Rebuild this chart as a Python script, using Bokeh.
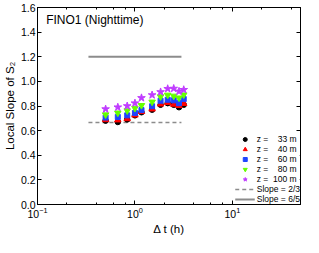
import numpy as np
from bokeh.plotting import figure
from bokeh.models import (Legend, LegendItem, Label, LogAxis, LinearAxis,
                          FixedTicker, LogTicker, Range1d, PrintfTickFormatter)
from bokeh.embed import file_html
from bokeh.resources import INLINE

# ---- data ----
dt_hours = [0.5, 0.667, 0.833, 1.0, 1.167, 1.5, 1.833, 2.167, 2.5, 2.833, 3.167]
slope_33m = [0.681, 0.670, 0.691, 0.724, 0.749, 0.770, 0.810, 0.823, 0.810, 0.790, 0.810]
slope_40m = [0.688, 0.686, 0.696, 0.726, 0.754, 0.775, 0.815, 0.828, 0.813, 0.803, 0.820]
slope_60m = [0.706, 0.711, 0.724, 0.744, 0.767, 0.798, 0.843, 0.851, 0.846, 0.823, 0.856]
slope_80m = [0.729, 0.744, 0.762, 0.782, 0.805, 0.833, 0.876, 0.889, 0.881, 0.866, 0.891]
slope_100m = [0.775, 0.790, 0.800, 0.823, 0.866, 0.889, 0.914, 0.940, 0.942, 0.919, 0.932]

ref_dt = [1 / 3, 3.0]
ref_slope_2_3 = [2 / 3, 2 / 3]
ref_slope_6_5 = [6 / 5, 6 / 5]

series_labels = ["z =    33 m", "z =    40 m", "z =    60 m", "z =    80 m", "z =  100 m"]
ref_labels = ["Slope = 2/3", "Slope = 6/5"]
y_ticks = [0.0, 0.2, 0.4, 0.6, 0.8, 1.0, 1.2, 1.4, 1.6]
title_text = "FINO1 (Nighttime)"
x_label = "\u0394 t (h)"
y_label = "Local Slope of S\u2082"

FONT = "Liberation Sans"

p = figure(width=303, height=237, x_axis_type="log",
           x_range=Range1d(0.1, 50), y_range=Range1d(0, 1.6),
           output_backend="svg", toolbar_location=None,
           min_border_left=34, min_border_right=3, min_border_top=7,
           min_border_bottom=26)
p.grid.visible = False
p.outline_line_color = "black"
p.outline_line_width = 1
p.background_fill_color = "white"
p.border_fill_color = "white"

# reference lines
l23 = p.line(ref_dt, ref_slope_2_3, line_color="#8c8c8c", line_width=1.5, line_dash="4 3")
l65 = p.line(ref_dt, ref_slope_6_5, line_color="#8c8c8c", line_width=2)

# data
r1 = p.scatter(dt_hours, slope_33m, marker="circle", size=5.5, color="black")
r2 = p.scatter(dt_hours, slope_40m, marker="triangle", size=6.5, color="#ff0000")
r3 = p.scatter(dt_hours, slope_60m, marker="square", size=5, color="#1f45ff")
r4 = p.scatter(dt_hours, slope_80m, marker="inverted_triangle", size=6.5, color="#66ff00")
r5 = p.scatter(dt_hours, slope_100m, marker="star", size=8, color="#c03cff")

# axes styling
xax = p.xaxis[0]
yax = p.yaxis[0]
xax.ticker = LogTicker(desired_num_ticks=3)
yax.ticker = FixedTicker(ticks=y_ticks)
yax.formatter = PrintfTickFormatter(format="%.1f")
for ax in (xax, yax):
    ax.axis_line_color = "black"
    ax.major_tick_line_color = "black"
    ax.minor_tick_line_color = "black"
    ax.major_tick_in = 4
    ax.major_tick_out = 0
    ax.minor_tick_in = 2
    ax.minor_tick_out = 0
    ax.major_label_text_font = FONT
    ax.major_label_text_font_size = "10.5px"
    ax.major_label_text_color = "black"
    ax.axis_label_text_font = FONT
    ax.axis_label_text_font_size = "11.5px"
    ax.axis_label_text_font_style = "normal"
    ax.axis_label_text_color = "black"
    ax.major_label_standoff = 2
    ax.axis_label_standoff = 2
xax.axis_label = x_label
yax.axis_label = y_label

top = LogAxis(ticker=LogTicker(desired_num_ticks=3))
right = LinearAxis(ticker=FixedTicker(ticks=y_ticks))
for ax in (top, right):
    ax.axis_line_color = "black"
    ax.major_tick_line_color = "black"
    ax.minor_tick_line_color = "black"
    ax.major_tick_in = 4
    ax.major_tick_out = 0
    ax.minor_tick_in = 2
    ax.minor_tick_out = 0
    ax.major_label_text_font_size = "1px"
    ax.major_label_text_alpha = 0
    ax.major_label_standoff = 0
p.add_layout(top, "above")
p.add_layout(right, "right")

# title text inside plot
p.add_layout(Label(x=0.1227, y=1.5, text=title_text, text_baseline="middle",
                   text_font=FONT, text_font_size="12px", text_color="black"))

legend = Legend(items=[
    LegendItem(label=series_labels[0], renderers=[r1]),
    LegendItem(label=series_labels[1], renderers=[r2]),
    LegendItem(label=series_labels[2], renderers=[r3]),
    LegendItem(label=series_labels[3], renderers=[r4]),
    LegendItem(label=series_labels[4], renderers=[r5]),
    LegendItem(label=ref_labels[0], renderers=[l23]),
    LegendItem(label=ref_labels[1], renderers=[l65]),
], location="bottom_right")
legend.border_line_color = None
legend.background_fill_color = "white"
legend.background_fill_alpha = 1.0
legend.margin = 0
legend.padding = 3
legend.spacing = 0
legend.label_height = 10
legend.glyph_height = 10
legend.glyph_width = 20
legend.label_standoff = 2
legend.label_text_font = FONT
legend.label_text_font_size = "8.5px"
legend.label_text_color = "black"
p.add_layout(legend)

open("out.html", "w").write(file_html(p, INLINE))
